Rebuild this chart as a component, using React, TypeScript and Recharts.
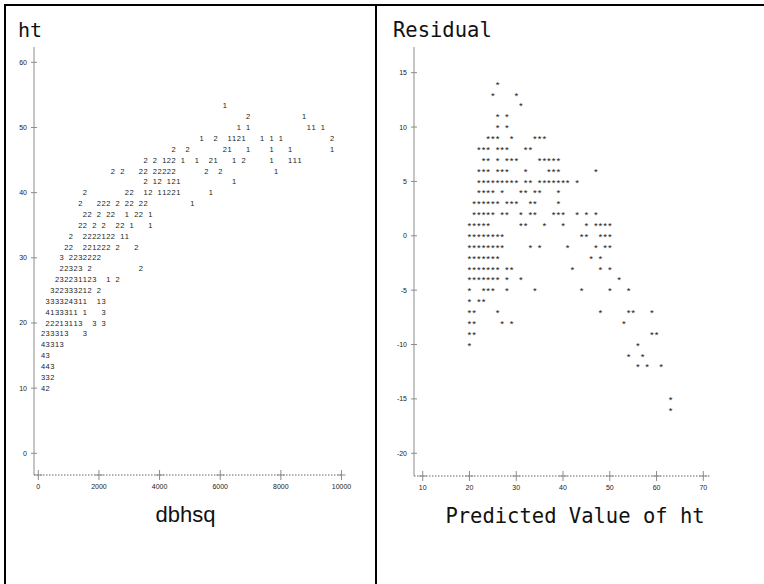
import React from 'react';
import { ScatterChart, Scatter, XAxis, YAxis } from 'recharts';

// ---- Left panel: ht against dbhsq, printed in line-printer style ----
// Each row sits at one ht level; each run is [first print column, symbols].
// A digit is the number of trees that fall into that print cell.
const htLevels = [
  53.33, 51.67, 50, 48.33, 46.67, 45, 43.33, 41.67, 40, 38.33, 36.67, 35, 33.33,
  31.67, 30, 28.33, 26.67, 25, 23.33, 21.67, 20, 18.33, 16.67, 15, 13.33, 11.67, 10,
];
const htRuns: [number, string][][] = [
  [[40, '1']],
  [[45, '2'], [57, '1']],
  [[43, '1'], [45, '1'], [58, '11'], [61, '1']],
  [[35, '1'], [38, '2'], [41, '1121'], [48, '1'], [50, '1'], [52, '1'], [63, '2']],
  [[29, '2'], [32, '2'], [40, '21'], [45, '1'], [50, '1'], [54, '1'], [63, '1']],
  [[23, '2'], [25, '2'], [27, '122'], [31, '1'], [34, '1'], [37, '21'], [42, '1'], [44, '2'], [50, '1'], [54, '111']],
  [[16, '2'], [18, '2'], [22, '22'], [25, '22222'], [36, '2'], [39, '2'], [51, '1']],
  [[23, '2'], [25, '12'], [28, '121'], [42, '1']],
  [[10, '2'], [19, '22'], [23, '12'], [26, '11221'], [37, '1']],
  [[9, '2'], [13, '222'], [17, '2'], [19, '22'], [22, '22'], [33, '1']],
  [[10, '22'], [13, '2'], [15, '22'], [19, '1'], [21, '22'], [24, '1']],
  [[9, '22'], [12, '2'], [14, '2'], [17, '22'], [20, '1'], [24, '1']],
  [[7, '2'], [10, '2222122'], [18, '11']],
  [[6, '22'], [10, '221222'], [17, '2'], [21, '2']],
  [[5, '3'], [7, '2232222']],
  [[5, '22323'], [11, '2'], [22, '2']],
  [[4, '232231123'], [15, '1'], [17, '2']],
  [[3, '322333212'], [13, '2']],
  [[2, '333324311'], [13, '13']],
  [[2, '4133311'], [10, '1'], [14, '3']],
  [[2, '22213113'], [12, '3'], [14, '3']],
  [[1, '233313'], [10, '3']],
  [[1, '43313']],
  [[1, '43']],
  [[1, '443']],
  [[1, '332']],
  [[1, '42']],
];
// 13 print columns per 2000 units of dbhsq
const DBHSQ_PER_COLUMN = 2000 / 13;
const dbhsqTicks = [0, 2000, 4000, 6000, 8000, 10000];
const htTicks = [0, 10, 20, 30, 40, 50, 60];

// ---- Right panel: residual against predicted ht ----
// One print column per unit of predicted ht, one row per unit of residual.
const residualLevels = [
  14, 13, 12, 11, 10, 9, 8, 7, 6, 5, 4, 3, 2, 1, 0, -1, -2, -3, -4, -5, -6, -7, -8, -9,
  -10, -11, -12, -15, -16,
];
const residualRuns: [number, string][][] = [
  [[26, '*']],
  [[25, '*'], [30, '*']],
  [[31, '*']],
  [[26, '*'], [28, '*']],
  [[26, '*'], [28, '*']],
  [[24, '***'], [29, '*'], [34, '***']],
  [[22, '***'], [26, '***'], [32, '**']],
  [[23, '**'], [26, '*'], [28, '***'], [35, '*****']],
  [[22, '***'], [26, '***'], [32, '*'], [37, '***'], [47, '*']],
  [[22, '*********'], [32, '**'], [35, '*******'], [43, '*']],
  [[22, '****'], [27, '*'], [31, '**'], [34, '**'], [39, '*']],
  [[21, '******'], [28, '***'], [33, '**'], [39, '*']],
  [[21, '*****'], [27, '**'], [31, '*'], [33, '**'], [38, '***'], [43, '*'], [45, '*'], [47, '*']],
  [[20, '*****'], [31, '**'], [36, '*'], [40, '*'], [45, '*'], [47, '****']],
  [[20, '********'], [44, '**'], [48, '***']],
  [[20, '********'], [33, '*'], [35, '*'], [41, '*'], [47, '*'], [49, '**']],
  [[20, '*******'], [46, '*'], [48, '*']],
  [[20, '*******'], [28, '**'], [42, '*'], [48, '*'], [50, '*']],
  [[20, '*******'], [28, '*'], [31, '*'], [52, '*']],
  [[20, '*'], [23, '***'], [28, '*'], [34, '*'], [44, '*'], [50, '*'], [54, '*']],
  [[20, '*'], [22, '**']],
  [[20, '**'], [26, '*'], [48, '*'], [54, '**'], [59, '*']],
  [[20, '**'], [27, '*'], [29, '*'], [53, '*']],
  [[20, '**'], [59, '**']],
  [[20, '*'], [56, '*']],
  [[54, '*'], [57, '*']],
  [[56, '*'], [58, '*'], [61, '*']],
  [[63, '*']],
  [[63, '*']],
];
const predictedTicks = [10, 20, 30, 40, 50, 60, 70];
const residualTicks = [-20, -15, -10, -5, 0, 5, 10, 15];

type Cell = { x: number; y: number; sym: string };

function expandRows(levels: number[], runs: [number, string][][], colToX: (c: number) => number): Cell[] {
  const cells: Cell[] = [];
  levels.forEach((level, i) => {
    runs[i].forEach(([start, text]) => {
      text.split('').forEach((sym, k) => {
        if (sym !== ' ') cells.push({ x: colToX(start + k), y: level, sym });
      });
    });
  });
  return cells;
}

const treeCells = expandRows(htLevels, htRuns, (c) => c * DBHSQ_PER_COLUMN);
const residualCells = expandRows(residualLevels, residualRuns, (c) => c);

const AXIS_COLOR = '#8c8c8c';
const TEXT_COLOR = '#222';
const SANS = '"Liberation Sans", Arial, Helvetica, sans-serif';
const MONO = '"DejaVu Sans Mono", "Liberation Mono", monospace';

function YTick(props: any) {
  const { x, y, payload } = props;
  return (
    <g>
      <line x1={x - 3} x2={x + 3} y1={y} y2={y} stroke={AXIS_COLOR} strokeWidth={1} />
      <text x={x - 7} y={y} dy={2.5} textAnchor="end" fontSize={7} fontFamily={SANS} fill={TEXT_COLOR} stroke="none">
        {payload.value}
      </text>
    </g>
  );
}

function XTick(props: any) {
  const { x, y, payload } = props;
  return (
    <g>
      <line x1={x} x2={x} y1={y - 5} y2={y + 5} stroke={AXIS_COLOR} strokeWidth={1} />
      <line x1={x - 4} x2={x + 4} y1={y} y2={y} stroke={AXIS_COLOR} strokeWidth={1} />
      <text x={x} y={y + 14} textAnchor="middle" fontSize={7} fontFamily={SANS} fill={TEXT_COLOR} stroke="none">
        {payload.value}
      </text>
    </g>
  );
}

function DigitMark(props: any) {
  const { cx, cy, payload } = props;
  return (
    <text x={cx} y={cy} dy={2.6} textAnchor="middle" fontSize={7.5} fontFamily={SANS} fill={TEXT_COLOR}>
      {payload.sym}
    </text>
  );
}

function StarMark(props: any) {
  const { cx, cy, payload } = props;
  return (
    <text x={cx} y={cy} dy={4.2} textAnchor="middle" fontSize={9.5} fontFamily={SANS} fill="#1a1a1a">
      {payload.sym}
    </text>
  );
}

export default function App() {
  return (
    <div style={{ position: 'absolute', left: 0, top: 0, width: 764, height: 584, background: '#fff' }}>
      <div style={{ position: 'absolute', left: 0, top: 0 }}>
        <ScatterChart width={376} height={584} margin={{ top: 47, right: 33, bottom: 79, left: 4 }}>
          <XAxis
            type="number"
            dataKey="x"
            domain={[-142, 10050]}
            ticks={dbhsqTicks}
            interval={0}
            height={30}
            tickSize={0}
            tickMargin={0}
            tickLine={false}
            axisLine={{ stroke: '#666', strokeDasharray: '1.5 1.5' }}
            tick={<XTick />}
            allowDataOverflow
          />
          <YAxis
            type="number"
            dataKey="y"
            domain={[-3.33, 62.35]}
            ticks={htTicks}
            interval={0}
            width={30}
            tickSize={0}
            tickMargin={0}
            tickLine={false}
            axisLine={{ stroke: AXIS_COLOR }}
            tick={<YTick />}
            allowDataOverflow
          />
          <Scatter data={treeCells} isAnimationActive={false} shape={<DigitMark />} />
        </ScatterChart>
      </div>
      <div style={{ position: 'absolute', left: 376, top: 0 }}>
        <ScatterChart width={388} height={584} margin={{ top: 47, right: 54, bottom: 78, left: 8 }}>
          <XAxis
            type="number"
            dataKey="x"
            domain={[8.14, 71.43]}
            ticks={predictedTicks}
            interval={0}
            height={30}
            tickSize={0}
            tickMargin={0}
            tickLine={false}
            axisLine={{ stroke: '#666', strokeDasharray: '1.5 1.5' }}
            tick={<XTick />}
            allowDataOverflow
          />
          <YAxis
            type="number"
            dataKey="y"
            domain={[-22.09, 17.36]}
            ticks={residualTicks}
            interval={0}
            width={30}
            tickSize={0}
            tickMargin={0}
            tickLine={false}
            axisLine={{ stroke: AXIS_COLOR }}
            tick={<YTick />}
            allowDataOverflow
          />
          <Scatter data={residualCells} isAnimationActive={false} shape={<StarMark />} />
        </ScatterChart>
      </div>
      <svg
        width={764}
        height={584}
        style={{ position: 'absolute', left: 0, top: 0, pointerEvents: 'none' }}
      >
        <line x1={4} x2={764} y1={5} y2={5} stroke="#000" strokeWidth={2} />
        <line x1={5} x2={5} y1={4} y2={584} stroke="#000" strokeWidth={2} />
        <line x1={376} x2={376} y1={4} y2={584} stroke="#000" strokeWidth={2} />
        <text x={18} y={37} fontSize={20} fontFamily={MONO} fill="#111">ht</text>
        <text x={393} y={37} fontSize={20.5} fontFamily={MONO} fill="#111">Residual</text>
        <text x={185.5} y={522} textAnchor="middle" fontSize={22} fontFamily={SANS} fill="#111">dbhsq</text>
        <text x={575} y={523} textAnchor="middle" fontSize={20.5} fontFamily={MONO} fill="#111">Predicted Value of ht</text>
      </svg>
    </div>
  );
}
